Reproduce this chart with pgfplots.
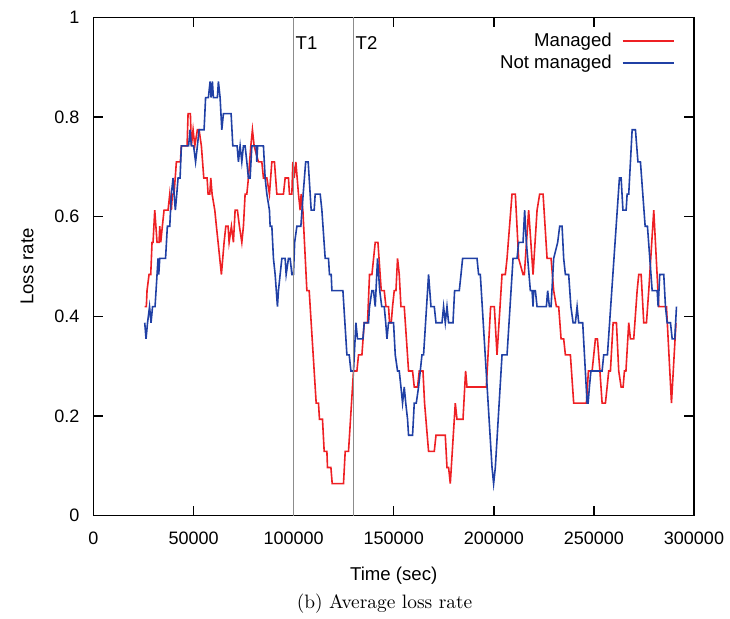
\documentclass[border=0pt]{standalone}
\usepackage{fontspec}
\setsansfont{Liberation Sans}
\usepackage{pgfplots}
\pgfplotsset{compat=1.18}
\definecolor{managed}{RGB}{238,32,36}
\definecolor{notmanaged}{RGB}{32,64,165}
\definecolor{tline}{RGB}{140,140,140}
\newcommand{\sft}{\sffamily\fontsize{9}{11}\selectfont}
\newcommand{\sfs}{\sffamily\fontsize{9.3}{11}\selectfont}
\begin{document}
\begin{tikzpicture}
\useasboundingbox (-46.75pt,-51.15pt) rectangle (318.25pt,257.85pt);
\begin{axis}[
  at={(0,0)}, anchor=south west,
  scale only axis, width=300.25pt, height=249.25pt,
  xmin=0, xmax=300000, ymin=0, ymax=1,
  xtick={0,50000,100000,150000,200000,250000,300000},
  xticklabels={0,50000,100000,150000,200000,250000,300000},
  ytick={0,0.2,0.4,0.6,0.8,1},
  yticklabels={0,0.2,0.4,0.6,0.8,1},
  scaled x ticks=false,
  tick align=inside, tick pos=both,
  major tick length=5pt,
  ticklabel style={font=\sft},
  xticklabel style={yshift=-4.5pt},
  yticklabel style={xshift=-3.5pt},
  axis line style={line width=0.7pt},
  every tick/.style={black, line width=0.7pt},
  xlabel={Time (sec)}, ylabel={Loss rate},
  label style={font=\sfs},
  xlabel style={at={(axis description cs:0.5,-0.12)}, anchor=center},
  ylabel style={at={(axis description cs:-0.1107,0.5)}, anchor=center},
  clip=false,
  legend style={draw=none, fill=none, font=\sfs, at={(axis description cs:0.968,0.969)}, anchor=north east, inner sep=0pt, row sep=2.6pt,
    nodes={inner sep=0pt}},
  legend cell align=right, legend plot pos=right,
  legend image code/.code={\draw[#1] (0pt,0pt) -- (25.5pt,0pt);},
  /tikz/every even column/.append style={column sep=4pt},
]
\addplot[managed, line width=0.8pt] coordinates {
(25600,0.4194)(26400,0.4194)(26750,0.4516)(27750,0.4839)(28600,0.4839)(29250,0.5484)(29750,0.5484)(30600,0.6129)(31750,0.5484)(32750,0.5484)(33100,0.5806)(33600,0.5484)(34400,0.5806)(35250,0.6129)(37250,0.6129)(38100,0.6452)(38900,0.6129)(39400,0.6452)(40250,0.6452)(41400,0.7097)(43400,0.7097)(43900,0.7419)(46750,0.7419)(47250,0.8065)(48400,0.8065)(48900,0.7419)(49750,0.7742)(50600,0.7419)(51900,0.7742)(52750,0.7742)(53900,0.7419)(55100,0.6774)(56750,0.6774)(57250,0.6452)(58100,0.6452)(58600,0.6774)(59250,0.6452)(60600,0.6129)(61400,0.5806)(62250,0.5484)(63900,0.4839)(65250,0.5484)(66100,0.5806)(67250,0.5806)(67750,0.5484)(68900,0.5806)(69900,0.5484)(70750,0.6129)(71900,0.6129)(72900,0.5806)(74100,0.5484)(74900,0.5806)(75750,0.6452)(76600,0.6452)(77400,0.6774)(78600,0.7419)(79400,0.7742)(80250,0.7419)(82400,0.7097)(84100,0.7097)(84900,0.6774)(86600,0.6774)(87900,0.6452)(89100,0.7097)(90400,0.7097)(91600,0.6452)(94900,0.6452)(95750,0.6774)(97400,0.6774)(97900,0.6452)(99100,0.6452)(99600,0.7097)(100250,0.6774)(101100,0.7097)(102400,0.6452)(103250,0.6129)(103750,0.6452)(104600,0.6129)(106600,0.4516)(107750,0.4516)(111250,0.2258)(112400,0.2258)(112900,0.1935)(114400,0.1935)(115250,0.129)(116600,0.129)(116900,0.0968)(118600,0.0968)(119250,0.0645)(124900,0.0645)(125750,0.129)(127400,0.129)(129900,0.2903)(131600,0.2903)(132400,0.3226)(134100,0.3226)(135250,0.3871)(136900,0.3871)(137900,0.4839)(139100,0.4839)(140750,0.5484)(142100,0.5484)(143750,0.4516)(145250,0.4516)(146100,0.4194)(147400,0.4194)(147900,0.3871)(148750,0.3871)(149400,0.4194)(150250,0.4516)(151100,0.4516)(151900,0.5161)(152750,0.4839)(153600,0.4194)(155250,0.4194)(157400,0.2903)(159400,0.2903)(160250,0.2581)(161900,0.2581)(162750,0.2903)(164600,0.2903)(165400,0.2258)(167400,0.129)(170250,0.129)(171100,0.1613)(175750,0.1613)(176600,0.0968)(177400,0.0968)(178250,0.0645)(180750,0.2258)(181600,0.1935)(184600,0.1935)(185900,0.2903)(186600,0.2581)(196250,0.2581)(198400,0.4194)(200250,0.4194)(201600,0.3226)(204100,0.4839)(205750,0.4839)(206600,0.5161)(209100,0.6452)(210750,0.6452)(212400,0.5161)(214600,0.4839)(215250,0.4839)(217400,0.6129)(219600,0.4839)(221600,0.6129)(222900,0.6452)(224600,0.6452)(226600,0.5161)(228600,0.5161)(229900,0.4516)(231250,0.4194)(232400,0.4194)(233600,0.3548)(234900,0.3548)(235750,0.3226)(238250,0.3226)(239900,0.2258)(246250,0.2258)(247250,0.2903)(249100,0.2903)(250750,0.3548)(251750,0.3548)(253000,0.2903)(254100,0.2258)(255750,0.2258)(256600,0.2581)(257400,0.2903)(258250,0.2903)(259600,0.3871)(261250,0.3871)(262400,0.2903)(263600,0.2581)(264600,0.2581)(265250,0.2903)(266000,0.2903)(267400,0.3871)(268250,0.3548)(269900,0.3548)(271600,0.4516)(272400,0.4839)(273600,0.4839)(274900,0.3871)(276250,0.3871)(277400,0.4516)(279900,0.6129)(282400,0.4194)(286250,0.4194)(288750,0.2258)(291000,0.3871)
};
\addlegendentry{Managed\rule{5pt}{0pt}}
\addplot[notmanaged, line width=0.8pt] coordinates {
(25600,0.3871)(26250,0.3548)(27000,0.3871)(28000,0.4194)(28750,0.3871)(29500,0.4194)(30750,0.4194)(32250,0.5161)(32600,0.4839)(33100,0.5161)(36000,0.5161)(36900,0.5806)(38100,0.5806)(38900,0.6452)(39750,0.6774)(40250,0.6452)(40900,0.6129)(41600,0.6452)(42250,0.6774)(43250,0.6774)(43900,0.7419)(47500,0.7419)(48250,0.7742)(48900,0.7419)(50000,0.7419)(51000,0.7097)(51900,0.7419)(52750,0.7742)(55250,0.7742)(56000,0.8387)(57400,0.8387)(58250,0.871)(58750,0.8387)(59400,0.871)(59900,0.8387)(61900,0.8387)(62400,0.871)(63250,0.8387)(64100,0.7742)(64900,0.8065)(68750,0.8065)(69600,0.7419)(71750,0.7419)(72400,0.7097)(73250,0.7419)(74100,0.7097)(74900,0.7419)(75750,0.7419)(76600,0.7097)(77400,0.6774)(78250,0.6774)(79100,0.7419)(81250,0.7419)(81600,0.7097)(82000,0.7419)(84900,0.7419)(85750,0.6774)(86600,0.6452)(87900,0.6129)(88250,0.5806)(89100,0.5806)(89900,0.5161)(90750,0.4839)(91900,0.4194)(92400,0.4516)(93250,0.4839)(94100,0.5161)(95750,0.5161)(96250,0.4839)(97400,0.5161)(98250,0.5161)(99100,0.4839)(99900,0.4839)(100500,0.5484)(101600,0.5806)(103600,0.5806)(104750,0.6452)(106000,0.7097)(107250,0.7097)(108750,0.6129)(110250,0.6129)(110750,0.6452)(113250,0.6452)(114100,0.6129)(115750,0.5161)(117400,0.5161)(117900,0.4839)(118750,0.4839)(119100,0.4516)(124600,0.4516)(126600,0.3226)(127750,0.3226)(128600,0.2903)(129900,0.2903)(131100,0.3871)(131900,0.3548)(134600,0.3548)(135250,0.3871)(137400,0.3871)(137900,0.4194)(139100,0.4516)(139900,0.4516)(140750,0.4194)(141900,0.5161)(143000,0.4516)(144000,0.4194)(145250,0.4194)(146000,0.3871)(146600,0.3548)(147400,0.3871)(149900,0.3871)(150750,0.3226)(151900,0.2903)(152750,0.2903)(153600,0.2581)(154400,0.2258)(155250,0.2581)(156000,0.2258)(156900,0.1935)(157400,0.1613)(159400,0.1613)(160250,0.2258)(161250,0.2258)(162400,0.2581)(163250,0.2903)(164100,0.3226)(164900,0.3226)(167400,0.4839)(168600,0.4194)(170250,0.4194)(171100,0.3871)(174100,0.3871)(174900,0.4194)(175750,0.3871)(176600,0.4194)(177400,0.3871)(179600,0.3871)(180400,0.4516)(182750,0.4516)(183600,0.4839)(184400,0.5161)(191600,0.5161)(192400,0.4839)(193250,0.4839)(199100,0.0968)(199900,0.0645)(200750,0.0968)(204100,0.3226)(206600,0.3226)(209600,0.5161)(211600,0.5161)(212400,0.5484)(214600,0.5484)(215400,0.6129)(216250,0.5484)(218250,0.4516)(219100,0.4516)(219600,0.4194)(219900,0.4516)(220750,0.4516)(221600,0.4194)(226250,0.4194)(226900,0.4516)(227750,0.4194)(228600,0.4194)(229900,0.5161)(231900,0.5484)(232900,0.5806)(234100,0.5806)(234900,0.5161)(235750,0.4839)(237400,0.4839)(238500,0.4194)(239600,0.3871)(240750,0.3871)(241600,0.4194)(242400,0.3871)(244400,0.3871)(246600,0.2258)(247100,0.2258)(247750,0.2581)(248500,0.2903)(254100,0.2903)(254900,0.3226)(256750,0.3226)(262750,0.6774)(263600,0.6774)(264500,0.6129)(266100,0.6129)(266600,0.6452)(267400,0.6452)(269100,0.7742)(270750,0.7742)(272000,0.7097)(273250,0.7097)(275600,0.5806)(276750,0.5806)(279100,0.4516)(281600,0.4516)(282100,0.4194)(282900,0.4839)(284900,0.4839)(285750,0.4194)(286600,0.3871)(288250,0.3871)(289100,0.3548)(290400,0.3548)(291250,0.4194)
};
\addlegendentry{Not managed\rule{5pt}{0pt}}
\addplot[tline, line width=0.75pt, forget plot] coordinates {(100000,0) (100000,1)};
\addplot[tline, line width=0.75pt, forget plot] coordinates {(130000,0) (130000,1)};
\node[font=\sfs, anchor=west, inner sep=0.8pt] at (axis cs:100000,0.948) {T1};
\node[font=\sfs, anchor=west, inner sep=0.8pt] at (axis cs:130000,0.948) {T2};
\node[font=\fontsize{9.7}{11}\selectfont] at (axis description cs:0.4846,-0.177) {(b) Average loss rate};
\end{axis}
\end{tikzpicture}
\end{document}
